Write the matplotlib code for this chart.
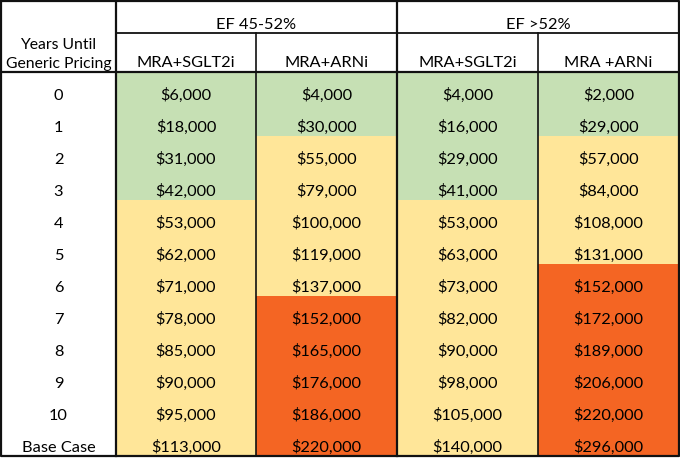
import numpy as np
import matplotlib.pyplot as plt
from matplotlib.patches import Rectangle

plt.rcParams['font.family'] = ['Lato', 'DejaVu Sans']

row_labels = ['0', '1', '2', '3', '4', '5', '6', '7', '8', '9', '10', 'Base Case']
groups = ['EF 45-52%', 'EF >52%']
sub_cols = ['MRA+SGLT2i', 'MRA+ARNi', 'MRA+SGLT2i', 'MRA +ARNi']

ef_mid_sglt2 = [6000, 18000, 31000, 42000, 53000, 62000, 71000, 78000, 85000, 90000, 95000, 113000]
ef_mid_arni = [4000, 30000, 55000, 79000, 100000, 119000, 137000, 152000, 165000, 176000, 186000, 220000]
ef_hi_sglt2 = [4000, 16000, 29000, 41000, 53000, 63000, 73000, 82000, 90000, 98000, 105000, 140000]
ef_hi_arni = [2000, 29000, 57000, 84000, 108000, 131000, 152000, 172000, 189000, 206000, 220000, 296000]

values = np.array([ef_mid_sglt2, ef_mid_arni, ef_hi_sglt2, ef_hi_arni]).T


def cell_colour(v):
    if v < 50000:
        return '#c6e0b4'
    elif v < 150000:
        return '#ffe699'
    return '#f46523'


W, H = 680, 458
fig = plt.figure(figsize=(W / 100, H / 100), dpi=100)
ax = fig.add_axes([0, 0, 1, 1])
ax.set_xlim(0, W)
ax.set_ylim(H, 0)
ax.axis('off')

col_x = [1, 116, 256, 397, 538, 679]
top, mid, head_bot = 1, 33, 72
row_h = 32
bottom = head_bot + row_h * len(row_labels)
fs = 11.8
dy = 2  # text sits low in the cell, like excel

# body cells
for i, lab in enumerate(row_labels):
    y0 = head_bot + i * row_h
    ty = y0 + row_h * 0.68 + dy
    ax.text((col_x[0] + col_x[1]) / 2, ty, lab, ha='center', va='center', fontsize=fs)
    for j in range(4):
        v = values[i, j]
        ax.add_patch(Rectangle((col_x[j + 1], y0), col_x[j + 2] - col_x[j + 1], row_h,
                               facecolor=cell_colour(v), edgecolor='none', zorder=1))
        ax.text((col_x[j + 1] + col_x[j + 2]) / 2, ty, '${:,}'.format(v),
                ha='center', va='center', fontsize=fs, zorder=3)

# header text
ax.text((col_x[0] + col_x[1]) / 2, 43 + dy, 'Years Until', ha='center', va='center', fontsize=11.3)
ax.text((col_x[0] + col_x[1]) / 2, 62 + dy, 'Generic Pricing', ha='center', va='center', fontsize=11.3)
for g, name in enumerate(groups):
    ax.text((col_x[1 + 2 * g] + col_x[3 + 2 * g]) / 2, 23 + dy, name, ha='center', va='center', fontsize=fs)
for j, name in enumerate(sub_cols):
    ax.text((col_x[j + 1] + col_x[j + 2]) / 2, 61 + dy, name, ha='center', va='center', fontsize=fs)

# grid lines
k = dict(color='#111111', zorder=4, solid_capstyle='projecting')
ax.plot([col_x[0], col_x[-1], col_x[-1], col_x[0], col_x[0]],
        [top, top, bottom, bottom, top], lw=1.6, **k)
ax.plot([col_x[0], col_x[-1]], [head_bot, head_bot], lw=1.6, **k)
ax.plot([col_x[1], col_x[-1]], [mid, mid], lw=1.3, **k)
for x in (col_x[1], col_x[3]):
    ax.plot([x, x], [top, bottom], lw=1.6, **k)
for x in (col_x[2], col_x[4]):
    ax.plot([x, x], [mid, bottom], lw=1.2, **k)

fig.savefig('out.png', dpi=100, facecolor='white')
